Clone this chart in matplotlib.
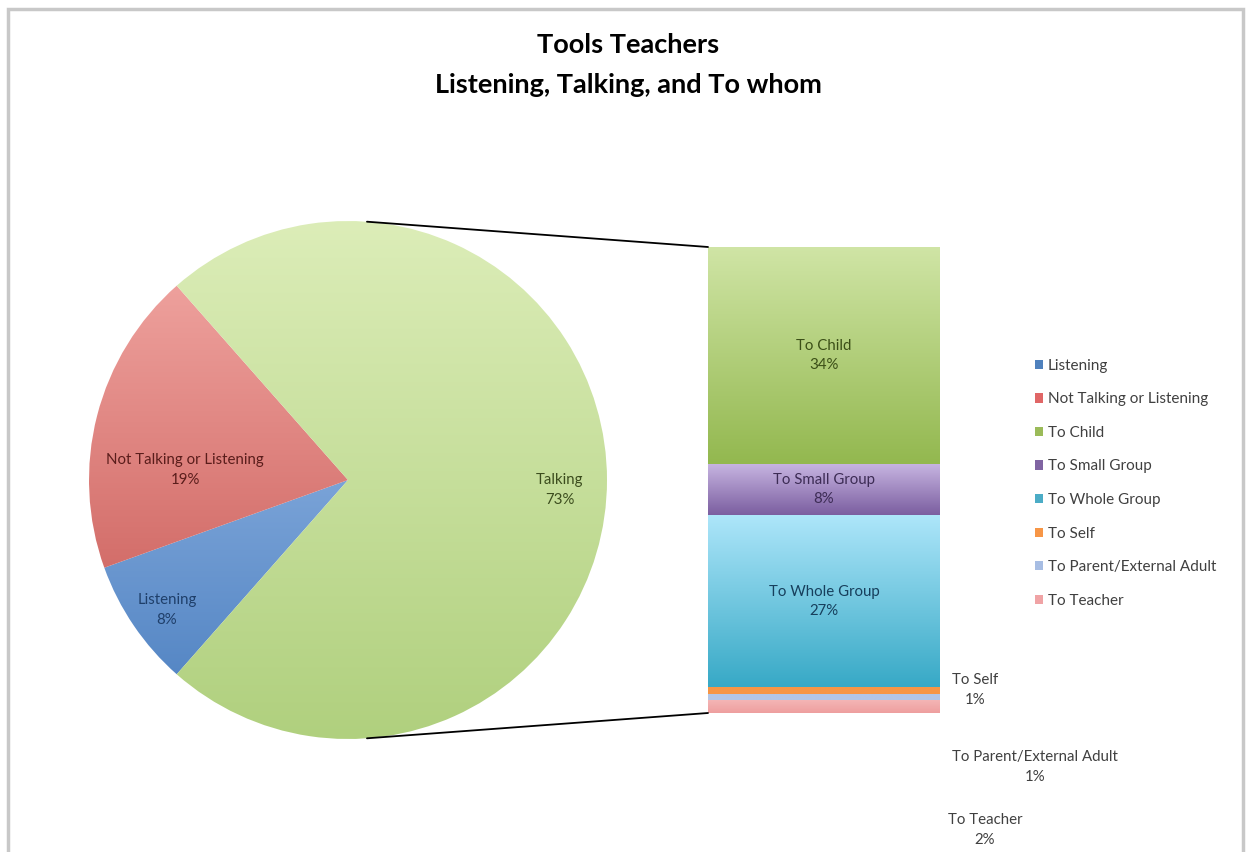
import numpy as np
import matplotlib
matplotlib.use('Agg')
import matplotlib.pyplot as plt
from matplotlib.patches import Patch, Rectangle, ConnectionPatch
from matplotlib.colors import LinearSegmentedColormap

plt.rcParams['font.family'] = ['Lato', 'DejaVu Sans']

# data
title = 'Tools Teachers\nListening, Talking, and To whom'
pie_labels = ['Listening', 'Not Talking or Listening', 'Talking']
pie_values = [8, 19, 73]
bar_labels = ['To Child', 'To Small Group', 'To Whole Group', 'To Self',
              'To Parent/External Adult', 'To Teacher']
bar_values = [34, 8, 27, 1, 1, 2]
legend_labels = ['Listening', 'Not Talking or Listening', 'To Child',
                 'To Small Group', 'To Whole Group', 'To Self',
                 'To Parent/External Adult', 'To Teacher']

# colours (light top, dark bottom)
pie_grad = [('#aac8f0', '#4a7ebf'), ('#f4aca8', '#c34f4b'), ('#dcedb8', '#b0d07e')]
pie_text = ['#1f3f6a', '#5a1d1b', '#3c4d1e']
bar_grad = [('#d0e5a6', '#93b84f'), ('#c8b6e2', '#7b5ea0'), ('#aee6fa', '#37a9c6'),
            ('#f79646', '#f79646'), ('#b3c6e7', '#b3c6e7'), ('#f4b5b5', '#ee9f9f')]
bar_text = ['#3b4f17', '#3d2c55', '#173f5c']
legend_colors = ['#4f81bd', '#e06666', '#9bbb59', '#8064a2', '#4bacc6',
                 '#f79646', '#a7bde3', '#f0a3a5']

W, H = 1250, 852
fig = plt.figure(figsize=(12.5, 8.52), dpi=100)
fig.patches.append(Rectangle((8, -10), 1235, 853, transform=None, fill=False,
                             edgecolor='#c8c8c8', linewidth=2.5))

ax = fig.add_axes([0, 0, 1, 1])
cx, cy, r = 348, H - 480, 259
start = 180 + (pie_values[0] + pie_values[1]) / 2 * 3.6
wedges, _ = ax.pie(pie_values, center=(cx, cy), radius=r, startangle=start,
                   counterclock=False, frame=True,
                   wedgeprops=dict(linewidth=0))
grad = np.linspace(0, 1, 256).reshape(-1, 1)
for w, (c1, c2) in zip(wedges, pie_grad):
    cmap = LinearSegmentedColormap.from_list('g', [c1, c2])
    im = ax.imshow(grad, cmap=cmap, aspect='auto', origin='upper',
                   extent=(cx - r, cx + r, cy - r, cy + r), zorder=1)
    im.set_clip_path(w)
    w.set_alpha(0)
ax.set_xlim(0, W)
ax.set_ylim(0, H)
ax.set_aspect('auto')
ax.axis('off')

ax.text(W / 2 + 3, H - 65, title, ha='center', va='center', fontsize=19.5,
        fontweight='bold', color='black', linespacing=1.8)

pie_pos = [(167, 610), (185, 470), (560, 490)]
for (px, py), lab, v, tc in zip(pie_pos, pie_labels, pie_values, pie_text):
    ax.text(px, H - py, f'{lab}\n{v}%', ha='center', va='center', fontsize=10.8,
            color=tc, linespacing=1.5, zorder=5)

# bar of pie
ax2 = fig.add_axes([708 / W, (H - 713) / H, 232 / W, 466 / H])
total = sum(bar_values)
bottoms = total - np.cumsum(bar_values)
bars = ax2.bar(0, bar_values, bottom=bottoms, width=1, linewidth=0)
for b, (c1, c2), bt, v in zip(bars, bar_grad, bottoms, bar_values):
    cmap = LinearSegmentedColormap.from_list('g', [c1, c2])
    im = ax2.imshow(grad, cmap=cmap, aspect='auto', origin='upper',
                    extent=(-0.5, 0.5, bt, bt + v), zorder=1)
    im.set_clip_path(b)
    b.set_alpha(0)
ax2.set_xlim(-0.5, 0.5)
ax2.set_ylim(0, total)
ax2.axis('off')

for lab, v, bt, tc in zip(bar_labels[:3], bar_values[:3], bottoms[:3], bar_text):
    ax2.text(0, bt + v / 2, f'{lab}\n{v}%', ha='center', va='center',
             fontsize=10.8, color=tc, linespacing=1.5)

out_pos = [(975, 690), (1035, 767), (985, 830)]
for (px, py), lab, v in zip(out_pos, bar_labels[3:], bar_values[3:]):
    ax.text(px, H - py, f'{lab}\n{v}%', ha='center', va='center', fontsize=10.8,
            color='#404040', linespacing=1.5)

# connector lines
for ang, yb in [(85.8, total), (-85.8, 0)]:
    p = (cx + r * np.cos(np.radians(ang)), cy + r * np.sin(np.radians(ang)))
    con = ConnectionPatch(xyA=p, coordsA=ax.transData, xyB=(-0.5, yb),
                          coordsB=ax2.transData, color='black', lw=1.3)
    fig.add_artist(con)

handles = [Patch(facecolor=c, edgecolor='none') for c in legend_colors]
fig.legend(handles, legend_labels, loc='upper left',
           bbox_to_anchor=(1021 / W, 1 - 345 / H), frameon=False,
           fontsize=11, handlelength=0.55, handleheight=0.55,
           handletextpad=0.3, labelspacing=1.28, labelcolor='#404040')

fig.savefig('out.png', dpi=100)
